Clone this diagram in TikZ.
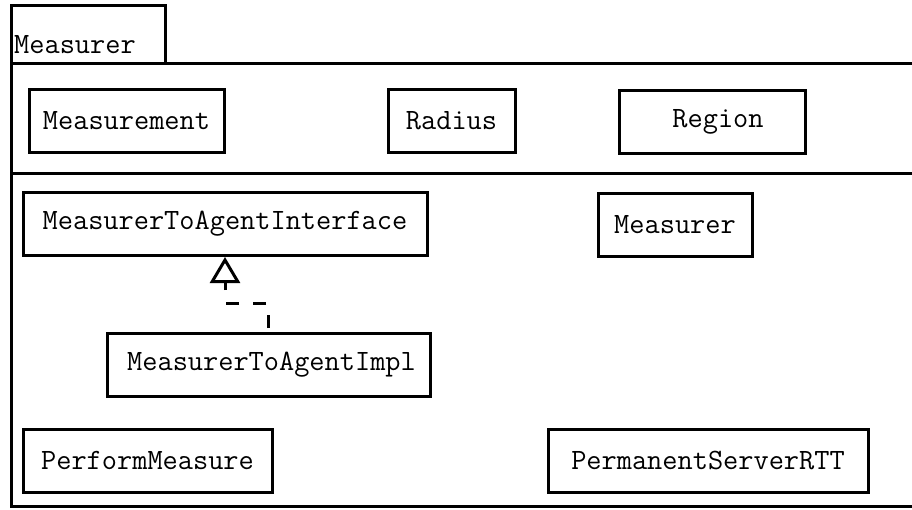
\documentclass[tikz,border=0pt]{standalone}
\usepackage{tikz}
\usetikzlibrary{arrows,arrows.meta,positioning}
\usetikzlibrary{calc}
\newcommand{\umlfont}{\fontsize{29.5}{35}\selectfont\ttfamily}

\begin{document}
\begin{tikzpicture}[x=1pt,y=-1pt]
    \tikzstyle{every node}=[font=\umlfont]
    \tikzstyle{cls}=[draw, line width=3pt, minimum height=63pt, inner sep=0pt]
    \useasboundingbox (0,0) rectangle (912,509);
    % package frame with its tab
    \draw[line width=3pt] (11,63) rectangle (165,5);
    \draw[line width=3pt] (915,63) -- (11,63) -- (11,506) -- (915,506);
    \draw[line width=3pt] (11,173) -- (915,173);
    \node[anchor=base west, inner sep=0pt] (pkg) at (14,53) {Measurer}; %
    % upper compartment
    \node[cls, minimum width=195pt] (Msmt) at (126.5,120.5) {Measurement}; %
    \node[cls, minimum width=127pt] (Radius) at ($(Msmt)+(325,0)$) {Radius}; %
    \node[cls, minimum width=186pt] (Region) at ($(Msmt)+(585.5,1)$) {\hspace*{12pt}Region}; %
    % lower compartment
    \node[cls, minimum width=404pt] (Iface) at (225,224) {MeasurerToAgentInterface}; %
    \node[cls, minimum width=154pt] (Meas) at ($(Iface)+(450,1)$) {Measurer}; %
    \node[cls, minimum width=323pt] (Impl) at ($(Iface)+(43.5,141)$) {\hspace*{6pt}MeasurerToAgentImpl}; %
    \node[cls, minimum width=249pt] (Perform) at (147.5,460.5) {PerformMeasure}; %
    \node[cls, minimum width=320pt] (RTT) at ($(Perform)+(560.5,0)$) {PermanentServerRTT}; %
    \coordinate (kink) at (268,303);
    \draw[line width=3pt, dash pattern=on 13pt off 14pt, dash phase=23pt,
        -{Triangle[open, length=26pt, width=30pt, line width=3pt]}]
        (Impl.north -| kink) -- (kink) -- (kink -| Iface.south) -- (Iface.south); %
\end{tikzpicture}
\end{document}
